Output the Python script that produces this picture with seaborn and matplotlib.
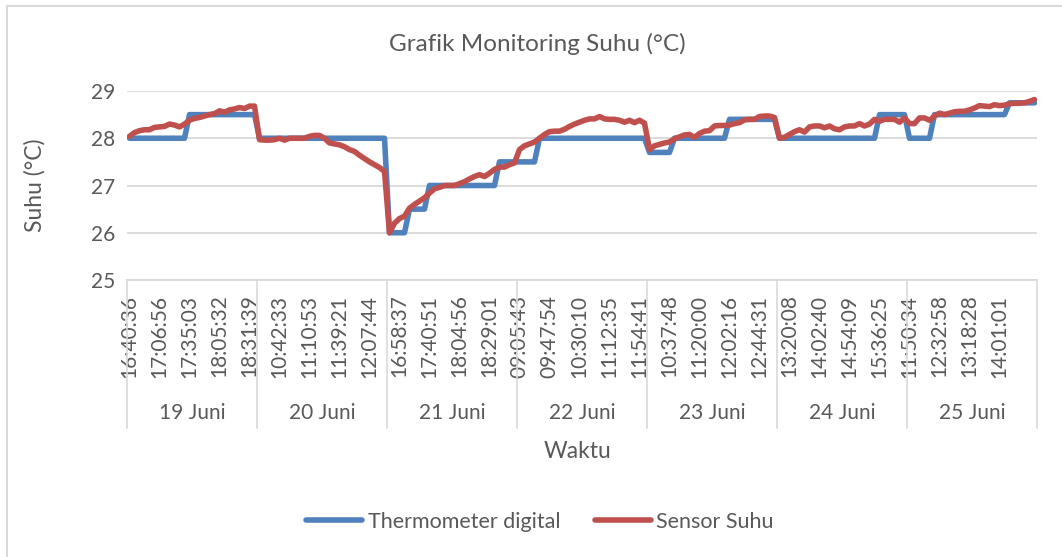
import numpy as np
import pandas as pd
import matplotlib
matplotlib.use("Agg")
import matplotlib.pyplot as plt
import matplotlib.transforms as mtransforms
from matplotlib.lines import Line2D
import seaborn as sns

# Days shown on the second level of the x axis
days = ["19 Juni", "20 Juni", "21 Juni", "22 Juni", "23 Juni", "24 Juni", "25 Juni"]

# Time labels shown on the first level (one every 6 readings)
times_19 = ["16:40:36", "17:06:56", "17:35:03", "18:05:32", "18:31:39"]
times_20 = ["10:42:33", "11:10:53", "11:39:21", "12:07:44"]
times_21 = ["16:58:37", "17:40:51", "18:04:56", "18:29:01"]
times_22 = ["09:05:43", "09:47:54", "10:30:10", "11:12:35", "11:54:41"]
times_23 = ["10:37:48", "11:20:00", "12:02:16", "12:44:31"]
times_24 = ["13:20:08", "14:02:40", "14:54:09", "15:36:25"]
times_25 = ["11:50:34", "12:32:58", "13:18:28", "14:01:01"]

# Thermometer digital readings (26 per day)
thermo_19 = [28.0, 28.0, 28.0, 28.0, 28.0, 28.0, 28.0, 28.0, 28.0, 28.0, 28.0, 28.0, 28.5,
             28.5, 28.5, 28.5, 28.5, 28.5, 28.5, 28.5, 28.5, 28.5, 28.5, 28.5, 28.5, 28.5]
thermo_20 = [28.0, 28.0, 28.0, 28.0, 28.0, 28.0, 28.0, 28.0, 28.0, 28.0, 28.0, 28.0, 28.0,
             28.0, 28.0, 28.0, 28.0, 28.0, 28.0, 28.0, 28.0, 28.0, 28.0, 28.0, 28.0, 28.0]
thermo_21 = [26.0, 26.0, 26.0, 26.0, 26.5, 26.5, 26.5, 26.5, 27.0, 27.0, 27.0, 27.0, 27.0,
             27.0, 27.0, 27.0, 27.0, 27.0, 27.0, 27.0, 27.0, 27.0, 27.5, 27.5, 27.5, 27.5]
thermo_22 = [27.5, 27.5, 27.5, 27.5, 28.0, 28.0, 28.0, 28.0, 28.0, 28.0, 28.0, 28.0, 28.0,
             28.0, 28.0, 28.0, 28.0, 28.0, 28.0, 28.0, 28.0, 28.0, 28.0, 28.0, 28.0, 28.0]
thermo_23 = [27.7, 27.7, 27.7, 27.7, 27.7, 28.0, 28.0, 28.0, 28.0, 28.0, 28.0, 28.0, 28.0,
             28.0, 28.0, 28.0, 28.4, 28.4, 28.4, 28.4, 28.4, 28.4, 28.4, 28.4, 28.4, 28.4]
thermo_24 = [28.0, 28.0, 28.0, 28.0, 28.0, 28.0, 28.0, 28.0, 28.0, 28.0, 28.0, 28.0, 28.0,
             28.0, 28.0, 28.0, 28.0, 28.0, 28.0, 28.0, 28.5, 28.5, 28.5, 28.5, 28.5, 28.5]
thermo_25 = [28.0, 28.0, 28.0, 28.0, 28.0, 28.5, 28.5, 28.5, 28.5, 28.5, 28.5, 28.5, 28.5,
             28.5, 28.5, 28.5, 28.5, 28.5, 28.5, 28.5, 28.75, 28.75, 28.75, 28.75, 28.75, 28.75]

# Sensor Suhu readings (26 per day)
sensor_19 = [28.04, 28.12, 28.16, 28.18, 28.18, 28.23, 28.24, 28.25, 28.30, 28.28, 28.24, 28.30, 28.38,
             28.42, 28.44, 28.47, 28.50, 28.52, 28.58, 28.55, 28.60, 28.62, 28.65, 28.63, 28.68, 28.68]
sensor_20 = [27.97, 27.96, 27.96, 27.97, 28.00, 27.96, 28.00, 28.00, 28.00, 28.00, 28.04, 28.06, 28.06,
             28.00, 27.90, 27.88, 27.86, 27.82, 27.76, 27.72, 27.64, 27.57, 27.50, 27.44, 27.38, 27.30]
sensor_21 = [26.00, 26.20, 26.30, 26.35, 26.52, 26.60, 26.67, 26.74, 26.84, 26.93, 26.96, 27.00, 27.00,
             27.00, 27.04, 27.08, 27.14, 27.19, 27.23, 27.19, 27.26, 27.34, 27.39, 27.39, 27.44, 27.48]
sensor_22 = [27.76, 27.84, 27.88, 27.92, 28.00, 28.08, 28.14, 28.15, 28.15, 28.19, 28.25, 28.30, 28.34,
             28.38, 28.41, 28.41, 28.46, 28.41, 28.40, 28.40, 28.38, 28.34, 28.38, 28.33, 28.38, 28.32]
sensor_23 = [27.76, 27.84, 27.87, 27.90, 27.92, 27.99, 28.03, 28.07, 28.08, 28.02, 28.10, 28.15, 28.16,
             28.26, 28.27, 28.27, 28.28, 28.31, 28.33, 28.39, 28.40, 28.40, 28.46, 28.47, 28.47, 28.44]
sensor_24 = [28.00, 28.02, 28.08, 28.14, 28.18, 28.13, 28.24, 28.26, 28.26, 28.22, 28.26, 28.20, 28.18,
             28.24, 28.26, 28.26, 28.31, 28.26, 28.30, 28.40, 28.36, 28.40, 28.40, 28.40, 28.34, 28.43]
sensor_25 = [28.31, 28.31, 28.43, 28.43, 28.38, 28.47, 28.53, 28.50, 28.53, 28.56, 28.57, 28.57, 28.60,
             28.64, 28.69, 28.68, 28.67, 28.71, 28.69, 28.70, 28.73, 28.74, 28.74, 28.75, 28.78, 28.82]

thermo = thermo_19 + thermo_20 + thermo_21 + thermo_22 + thermo_23 + thermo_24 + thermo_25
sensor = sensor_19 + sensor_20 + sensor_21 + sensor_22 + sensor_23 + sensor_24 + sensor_25
time_labels = times_19 + times_20 + times_21 + times_22 + times_23 + times_24 + times_25
per_day = len(thermo_19)
label_every = 6
n = len(thermo)

df = pd.DataFrame({
    "i": list(range(n)) * 2,
    "suhu": thermo + sensor,
    "seri": ["Thermometer digital"] * n + ["Sensor Suhu"] * n,
})

blue = "#4F81BD"
red = "#C0504D"
grid_c = "#D9D9D9"
text_c = "#595959"

sns.set_theme(style="white")
plt.rcParams["font.family"] = ["Lato", "DejaVu Sans"]

W, H = 1062, 557
fig = plt.figure(figsize=(W / 100, H / 100), dpi=100)
ax = fig.add_axes([127 / W, 1 - 280 / H, 910 / W, 189 / H])

sns.lineplot(data=df, x="i", y="suhu", hue="seri",
             palette={"Thermometer digital": blue, "Sensor Suhu": red},
             linewidth=4, legend=False, ax=ax)
for ln in ax.lines:
    ln.set_solid_capstyle("round")
    ln.set_solid_joinstyle("round")

ax.set_xlim(-0.5, n - 0.5)
ax.set_ylim(25, 29)
ax.set_yticks([25, 26, 27, 28, 29])
ax.grid(axis="y", color=grid_c, linewidth=1.3)
ax.grid(axis="x", visible=False)
ax.set_axisbelow(True)
for s in ["top", "left", "right"]:
    ax.spines[s].set_visible(False)
ax.spines["bottom"].set_color(grid_c)
ax.spines["bottom"].set_linewidth(1.3)

ax.set_xticks([label_every * k for k in range(len(time_labels))])
ax.set_xticklabels(time_labels, rotation=90, fontsize=15, color=text_c)
ax.tick_params(axis="x", length=0, pad=10.5)
ax.tick_params(axis="y", length=0, pad=8.5, labelsize=15, labelcolor=text_c)
ax.set_xlabel("")
ax.set_ylabel("")

# second level of the category axis
trans = mtransforms.blended_transform_factory(ax.transData, ax.transAxes)
for d in range(len(days) + 1):
    x = -0.5 + per_day * d
    ax.add_line(Line2D([x, x], [0, -148 / 189], transform=trans, clip_on=False,
                       color=grid_c, linewidth=1.2))
for d, day in enumerate(days):
    ax.text(per_day * d + (per_day - 1) / 2, -(413 - 280) / 189, day, transform=trans,
            ha="center", va="center", fontsize=15, color=text_c)

fig.text(537 / W, 1 - 44 / H, "Grafik Monitoring Suhu (°C)", ha="center", va="center",
         fontsize=17.5, color=text_c)
fig.text(35 / W, 1 - 185 / H, "Suhu (°C)", rotation=90, ha="center", va="center",
         fontsize=16.5, color=text_c)
fig.text(578 / W, 1 - 452 / H, "Waktu", ha="center", va="center", fontsize=16.5, color=text_c)

handles = [Line2D([], [], color=blue, linewidth=4, solid_capstyle="round"),
           Line2D([], [], color=red, linewidth=4, solid_capstyle="round")]
leg = fig.legend(handles, ["Thermometer digital", "Sensor Suhu"], loc="center",
                 bbox_to_anchor=(540 / W, 1 - 522 / H), ncol=2, frameon=False,
                 fontsize=15.5, handlelength=2.6, handletextpad=0.25, columnspacing=1.6)
for t in leg.get_texts():
    t.set_color(text_c)

# outer chart border (only top and left edges are inside the picture)
fig.add_artist(Line2D([7 / W, 7 / W], [0, 1 - 6 / H], transform=fig.transFigure,
                      color=grid_c, linewidth=1.5))
fig.add_artist(Line2D([7 / W, 1], [1 - 6 / H, 1 - 6 / H], transform=fig.transFigure,
                      color=grid_c, linewidth=1.5))

fig.savefig("out.png", dpi=100)
